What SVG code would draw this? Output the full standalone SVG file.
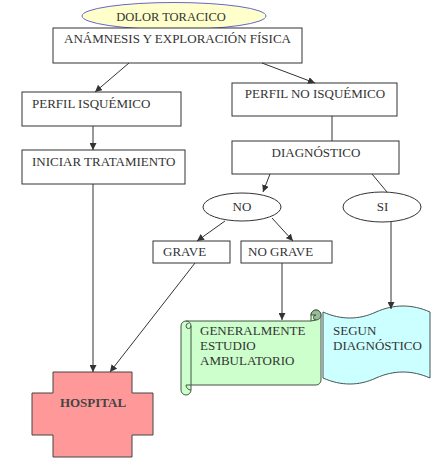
<svg xmlns="http://www.w3.org/2000/svg" width="440" height="466" viewBox="0 0 440 466">
<style>
text{font-family:"Liberation Serif","Times New Roman",serif;font-size:13px;fill:#333}
.box{fill:#fff;stroke:#333;stroke-width:1}
.ln{stroke:#333;stroke-width:1;fill:none}
.c{text-anchor:middle}
</style>
<defs>
<marker id="ah" viewBox="0 0 10 10" refX="10" refY="5" markerWidth="7" markerHeight="7" orient="auto" markerUnits="userSpaceOnUse">
<path d="M0,0 L10,5 L0,10 Z" fill="#333"/>
</marker>
</defs>
<rect width="440" height="466" fill="#fff"/>
<g id="dolor">
<ellipse cx="174" cy="16" rx="92" ry="13.5" fill="#ffffcc" stroke="#6666cc" stroke-width="1"/>
<text x="171" y="21" class="c" style="font-size:12.5px">DOLOR TORACICO</text>
</g>
<g id="anamnesis">
<rect class="box" x="53" y="28" width="249" height="35"/>
<text x="177.5" y="43" class="c">ANÁMNESIS Y EXPLORACIÓN FÍSICA</text>
</g>
<g id="perfil-isq">
<rect class="box" x="22" y="92" width="159" height="34"/>
<text x="32" y="108">PERFIL ISQUÉMICO</text>
</g>
<g id="iniciar">
<rect class="box" x="22" y="150" width="163" height="34"/>
<text x="32" y="166">INICIAR TRATAMIENTO</text>
</g>
<g id="perfil-no">
<rect class="box" x="232" y="83" width="165" height="33"/>
<text x="315" y="98" class="c">PERFIL NO ISQUÉMICO</text>
</g>
<g id="diagnostico">
<rect class="box" x="232" y="141" width="167" height="33"/>
<text x="316" y="157" class="c">DIAGNÓSTICO</text>
</g>
<g id="no">
<ellipse class="box" cx="242" cy="207" rx="39" ry="14"/>
<text x="242" y="211" class="c">NO</text>
</g>
<g id="si">
<ellipse class="box" cx="382" cy="207" rx="39" ry="15"/>
<text x="382.5" y="211" class="c">SI</text>
</g>
<g id="grave">
<rect class="box" x="153" y="241" width="77" height="22"/>
<text x="163" y="256">GRAVE</text>
</g>
<g id="no-grave">
<rect class="box" x="241" y="241" width="91" height="22"/>
<text x="248" y="256">NO GRAVE</text>
</g>
<g id="hospital">
<path d="M53,372 H132 V393 H153 V435 H132 V457 H53 V435 H32 V393 H53 Z" fill="#ff9999" stroke="#444" stroke-width="1"/>
<text x="93" y="407" class="c" style="font-weight:bold;fill:#444">HOSPITAL</text>
</g>
<g id="ambulatorio">
<path d="M186,321 L311,321 L311,315 A5,5 0 0 1 321,315 L321,380 A5,5 0 0 1 316,385 L191,385 L191,390 A5,5 0 0 1 181,390 L181,326 A5,5 0 0 1 186,321 Z" fill="#ccffcc" stroke="#445544" stroke-width="1"/>
<path d="M311,315 A5,5 0 0 1 321,315 A5,5 0 0 1 316,320 A2.5,2.5 0 0 1 316,315 L311,315 Z" fill="#99bb99" stroke="#445544" stroke-width="1"/>
<path d="M316,320 L311,321" stroke="#445544" stroke-width="1" fill="none"/>
<path d="M186,321 A5,5 0 0 1 191,326 L191,385 M191,326 A2.5,2.5 0 0 1 186,326 A2.5,2.5 0 0 1 188.5,323.5" stroke="#445544" stroke-width="1" fill="none"/>
<path d="M191,390 A5,5 0 0 1 186,385 L191,385" stroke="#445544" stroke-width="1" fill="none"/>
<text x="200" y="335">GENERALMENTE</text>
<text x="200" y="350">ESTUDIO</text>
<text x="200" y="365">AMBULATORIO</text>
</g>
<g id="segun">
<path d="M323,312 C341,320 359,320 376,312 C394,304 412,304 430,312 L430,378 C412,370 394,370 376,378 C359,386 341,386 323,378 Z" fill="#ccffff" stroke="#445555" stroke-width="1"/>
<text x="333" y="335">SEGUN</text>
<text x="333" y="350">DIAGNÓSTICO</text>
</g>
<g id="connectors">
<line class="ln" x1="129" y1="63" x2="95" y2="92" marker-end="url(#ah)"/>
<line class="ln" x1="262" y1="63" x2="315" y2="83" marker-end="url(#ah)"/>
<line class="ln" x1="93" y1="126" x2="93" y2="150" marker-end="url(#ah)"/>
<line class="ln" x1="332" y1="116" x2="332" y2="141"/>
<line class="ln" x1="270" y1="174" x2="263" y2="192" marker-end="url(#ah)"/>
<line class="ln" x1="372" y1="174" x2="387" y2="192"/>
<line class="ln" x1="225" y1="221" x2="197" y2="241" marker-end="url(#ah)"/>
<line class="ln" x1="272" y1="218" x2="293" y2="241" marker-end="url(#ah)"/>
<line class="ln" x1="391" y1="222" x2="391" y2="309" marker-end="url(#ah)"/>
<line class="ln" x1="282" y1="263" x2="282" y2="320" marker-end="url(#ah)"/>
<line class="ln" x1="195" y1="263" x2="110" y2="372" marker-end="url(#ah)"/>
<line class="ln" x1="93" y1="184" x2="93" y2="372" marker-end="url(#ah)"/>
</g>
</svg>
